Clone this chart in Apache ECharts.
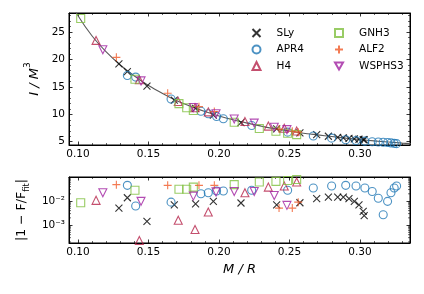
<!DOCTYPE html>
<html><head><meta charset="utf-8">
<script src="https://cdn.jsdelivr.net/npm/echarts@6/dist/echarts.min.js"></script>
<style>html,body{margin:0;padding:0;background:#fff}#c{width:424px;height:294px}</style>
</head><body><div id="c"></div>
<script>
// ---- data ----
const fitX = [0.095,0.10,0.11,0.12,0.13,0.14,0.15,0.16,0.17,0.18,0.19,0.20,0.21,0.22,0.23,0.24,0.25,0.26,0.27,0.28,0.29,0.30,0.31,0.32,0.33,0.336];
const fitY = [30.5,28.0,24.3,21.4,19.0,17.0,15.25,13.8,12.5,11.45,10.5,9.7,9.0,8.4,7.85,7.35,6.95,6.55,6.25,5.95,5.65,5.4,5.15,4.95,4.75,4.65];

const slyX = [0.1290,0.1350,0.1489,0.1683,0.1834,0.1960,0.2156,0.2409,0.2574,0.2693,0.2776,0.2842,0.2882,0.2922,0.2960,0.2993,0.3023,0.3030];
const slyY = [19.2,17.8,15.15,12.6,11.1,9.85,8.5,7.35,6.6,6.3,6.0,5.8,5.7,5.6,5.5,5.45,5.38,5.36];
const slyE = [5.1e-3,1.37e-2,1.42e-3,7.0e-3,7.7e-3,9.7e-3,8.3e-3,7.0e-3,8.5e-3,1.26e-2,1.47e-2,1.47e-2,1.47e-2,1.26e-2,9.7e-3,7.0e-3,3.7e-3,2.5e-3];

const apr4X = [0.1350,0.1409,0.1660,0.1872,0.1924,0.1983,0.2031,0.2232,0.2487,0.2669,0.2799,0.2899,0.2972,0.3035,0.3087,0.3130,0.3165,0.3196,0.3220,0.3243,0.3260];
const apr4Y = [17.1,16.8,12.8,10.55,10.1,9.6,9.2,7.95,6.75,6.05,5.65,5.35,5.2,5.1,5.0,4.95,4.9,4.85,4.78,4.7,4.65];
const apr4E = [4.5e-2,6.2e-3,9.0e-3,2.0e-2,2.2e-2,2.6e-2,2.6e-2,2.8e-2,2.8e-2,3.5e-2,4.2e-2,4.5e-2,4.2e-2,3.5e-2,2.5e-2,1.3e-2,2.7e-3,9.7e-3,2.2e-2,3.5e-2,4.2e-2];

const h4X = [0.1128,0.1435,0.1711,0.1830,0.1924,0.2184,0.2350,0.2463,0.2551];
const h4Y = [23.5,16.3,12.35,11.2,10.45,8.7,7.85,7.45,6.95];
const h4E = [1.07e-2,2.3e-4,1.6e-3,6.6e-4,3.5e-3,2.2e-2,3.8e-2,4.2e-2,6.2e-2];

const gnh3X = [0.1019,0.1404,0.1716,0.1771,0.1818,0.2108,0.2286,0.2404,0.2487,0.2551];
const gnh3Y = [27.5,16.4,11.95,11.2,10.7,8.55,7.4,6.9,6.55,6.3];
const gnh3E = [8.5e-3,2.8e-2,3.1e-2,3.1e-2,3.8e-2,4.8e-2,6.2e-2,6.6e-2,7.2e-2,7.9e-2];

const alf2X = [0.1272,0.1636,0.1858,0.1967,0.2426,0.2520,0.2562];
const alf2Y = [20.4,13.85,11.4,10.5,7.3,6.9,6.75];
const alf2E = [4.8e-2,4.5e-2,4.5e-2,4.5e-2,5.1e-3,5.1e-3,9.0e-3];

const wsX = [0.1176,0.1447,0.1818,0.1979,0.2108,0.2250,0.2392,0.2482];
const wsY = [21.8,16.1,11.25,10.1,9.15,8.4,7.65,7.2];
const wsE = [2.2e-2,9.7e-3,1.6e-2,2.4e-2,2.5e-2,2.5e-2,1.7e-2,6.6e-3];

const xTickLabels = ['0.10','0.15','0.20','0.25','0.30'];
const logMinorTicks = [2e-4,3e-4,4e-4,5e-4,6e-4,7e-4,8e-4,9e-4,2e-3,3e-3,4e-3,5e-3,6e-3,7e-3,8e-3,9e-3,2e-2,3e-2,4e-2,5e-2,6e-2,7e-2,8e-2,9e-2];
// ---- end data ----

const P_CROSS = 'path://M0,0L10,10M10,0L0,10';
const P_PLUS = 'path://M5,0L5,10M0,5L10,5';
const P_DTRI = 'path://M0,0L10,0L5,8.66Z';

const eos = [
  {name:'SLy', x:slyX, y:slyY, e:slyE, color:'#000000', symbol:P_CROSS, size:7},
  {name:'APR4', x:apr4X, y:apr4Y, e:apr4E, color:'#1f77b4', symbol:'circle', size:8},
  {name:'H4', x:h4X, y:h4Y, e:h4E, color:'#b5234a', symbol:'triangle', size:8},
  {name:'GNH3', x:gnh3X, y:gnh3Y, e:gnh3E, color:'#7fbf3f', symbol:'rect', size:8},
  {name:'ALF2', x:alf2X, y:alf2Y, e:alf2E, color:'#f05a28', symbol:P_PLUS, size:8},
  {name:'WSPHS3', x:wsX, y:wsY, e:wsE, color:'#a020a0', symbol:P_DTRI, size:8}
];

const zip = (a,b) => a.map((v,i)=>[v,b[i]]);
const FONT = 'DejaVu Sans';
const XMIN = 0.0936, XMAX = 0.3355;

function xAx(grid, pos, labels, extra) {
  return Object.assign({
    type:'value', gridIndex:grid, position:pos, min:XMIN, max:XMAX,
    axisLine:{show:true, onZero:false, lineStyle:{color:'#000', width:1}},
    axisTick:{show:true, inside:true, length:3.5, lineStyle:{color:'#000', width:0.8}},
    minorTick:{show:true, splitNumber:5, length:2, lineStyle:{color:'#000', width:0.6}},
    splitLine:{show:false}, minorSplitLine:{show:false},
    axisLabel:{show:labels, margin:4, fontFamily:FONT, fontSize:10.5, color:'#000',
      showMinLabel:false, showMaxLabel:false,
      formatter:v => { const s = v.toFixed(2); return xTickLabels.indexOf(s) >= 0 ? s : ''; }}
  }, extra || {});
}
function yLin(grid, pos, labels, extra) {
  return Object.assign({
    type:'value', gridIndex:grid, position:pos, min:4.4, max:28.5,
    axisLine:{show:true, onZero:false, lineStyle:{color:'#000', width:1}},
    axisTick:{show:true, inside:true, length:3.5, lineStyle:{color:'#000', width:0.8}},
    minorTick:{show:true, splitNumber:5, length:2, lineStyle:{color:'#000', width:0.6}},
    splitLine:{show:false},
    axisLabel:{show:labels, margin:4, fontFamily:FONT, fontSize:10.5, color:'#000',
      showMinLabel:false, showMaxLabel:false,
      formatter:v => (Math.abs(v - Math.round(v)) < 1e-6 && Math.round(v) % 5 === 0) ? String(Math.round(v)) : ''}
  }, extra || {});
}
function yLog(grid, pos, labels, extra) {
  return Object.assign({
    type:'log', logBase:10, gridIndex:grid, position:pos, min:1.8e-4, max:0.1,
    axisLine:{show:true, onZero:false, lineStyle:{color:'#000', width:1}},
    axisTick:{show:true, inside:true, length:3.5, lineStyle:{color:'#000', width:0.8}},
    minorTick:{show:false},
    splitLine:{show:false},
    axisLabel:{show:labels, margin:4, fontFamily:FONT, fontSize:10.5, color:'#000',
      showMinLabel:false, showMaxLabel:false,
      formatter:v => {
        if (Math.abs(v - 0.01) < 1e-9) return '10⁻²';
        if (Math.abs(v - 0.001) < 1e-10) return '10⁻³';
        return '';
      }}
  }, extra || {});
}

const series = [{
  type:'line', xAxisIndex:0, yAxisIndex:0, data:zip(fitX, fitY), smooth:0.3,
  showSymbol:false, lineStyle:{color:'#5a5a5a', width:1.1}, z:1, silent:true, clip:true
}];
eos.forEach(s => {
  const common = {
    type:'scatter', name:s.name, symbol:s.symbol, symbolSize:s.size,
    itemStyle:{color:'rgba(0,0,0,0)', borderColor:s.color, borderWidth:1.1}, z:2
  };
  series.push(Object.assign({}, common, {xAxisIndex:0, yAxisIndex:0, data:zip(s.x, s.y)}));
  series.push(Object.assign({}, common, {xAxisIndex:2, yAxisIndex:2, data:zip(s.x, s.e)}));
});
// minor log ticks for the lower panel (drawn as short tick-like marks on both edges)
const tickLen = 2;
series.push({
  type:'custom', xAxisIndex:2, yAxisIndex:2, silent:true, z:3, clip:false,
  data:logMinorTicks.map(v => [XMIN, v]),
  renderItem:(params, api) => {
    const p = api.coord([api.value(0), api.value(1)]);
    const q = api.coord([XMAX, api.value(1)]);
    return {type:'group', children:[
      {type:'line', shape:{x1:p[0], y1:p[1], x2:p[0]+tickLen, y2:p[1]}, style:{stroke:'#000', lineWidth:0.6}},
      {type:'line', shape:{x1:q[0], y1:q[1], x2:q[0]-tickLen, y2:q[1]}, style:{stroke:'#000', lineWidth:0.6}}
    ]};
  }
});

const legendCommon = {
  orient:'vertical', top:22, itemWidth:8, itemHeight:8, itemGap:4.5,
  textStyle:{fontFamily:FONT, fontSize:10.5, color:'#000', lineHeight:12, padding:[0,0,0,11]},
  selectedMode:false
};

const option = {
  backgroundColor:'#fff',
  animation:false,
  grid:[
    {left:69, top:13, width:341, height:132, show:true, borderColor:'#000', borderWidth:1, backgroundColor:'transparent'},
    {left:69, top:177, width:341, height:66, show:true, borderColor:'#000', borderWidth:1, backgroundColor:'transparent'}
  ],
  legend:[
    Object.assign({}, legendCommon, {left:246.5, data:['SLy','APR4','H4']}),
    Object.assign({}, legendCommon, {left:329, data:['GNH3','ALF2','WSPHS3']})
  ],
  xAxis:[
    xAx(0,'bottom',true),
    xAx(0,'top',false),
    xAx(1,'bottom',true,{name:'M / R', nameLocation:'middle', nameGap:20,
      nameTextStyle:{fontFamily:FONT, fontSize:13, fontStyle:'italic', color:'#000'}}),
    xAx(1,'top',false)
  ],
  yAxis:[
    yLin(0,'left',true,{name:'{i|I / M}{s|3}', nameLocation:'middle', nameGap:27, nameRotate:90,
      nameTextStyle:{rich:{
        i:{fontFamily:FONT, fontSize:13, fontStyle:'italic', color:'#000', lineHeight:18, verticalAlign:'bottom'},
        s:{fontFamily:FONT, fontSize:9, color:'#000', lineHeight:18, verticalAlign:'top'}
      }}}),
    yLin(0,'right',false),
    yLog(1,'left',true,{name:'|1 − F/F{s|fit}|', nameLocation:'middle', nameGap:36, nameRotate:90,
      nameTextStyle:{fontFamily:FONT, fontSize:12.5, color:'#000', rich:{
        s:{fontFamily:FONT, fontSize:8.5, color:'#000', verticalAlign:'bottom', lineHeight:18}
      }}}),
    yLog(1,'right',false)
  ],
  series:series
};

const chart = echarts.init(document.getElementById('c'), null, {renderer:'canvas'});
chart.setOption(option);
</script>
</body></html>
